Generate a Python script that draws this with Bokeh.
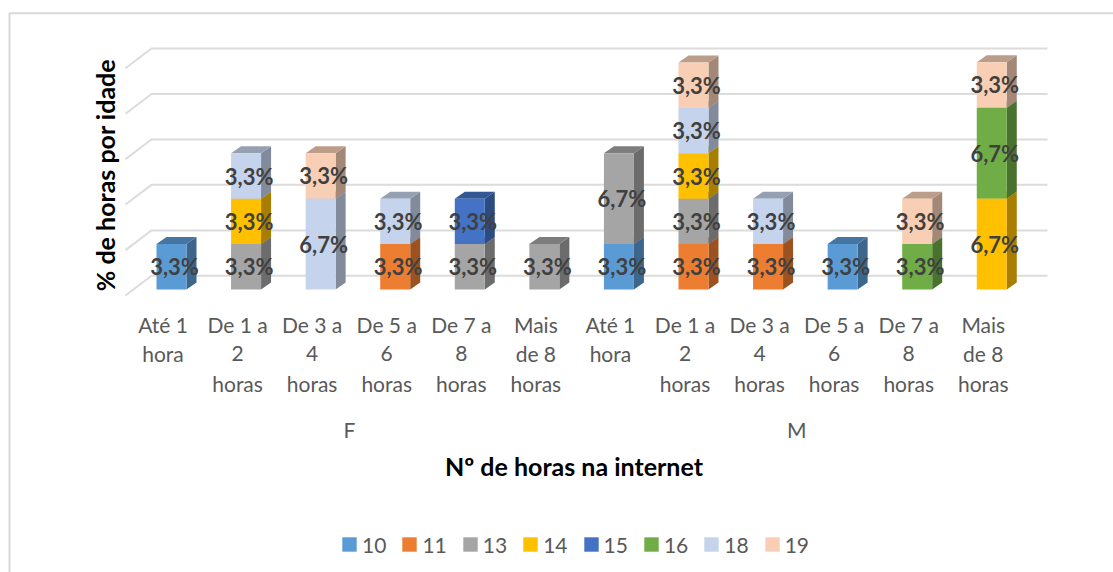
from bokeh.plotting import figure
from bokeh.models import ColumnDataSource, Legend, LegendItem
from bokeh.core.properties import value
from bokeh.embed import file_html
from bokeh.resources import INLINE
import math

# ---- data ----
categories = [["Até 1", "hora"], ["De 1 a", "2", "horas"], ["De 3 a", "4", "horas"], ["De 5 a", "6", "horas"],
              ["De 7 a", "8", "horas"], ["Mais", "de 8", "horas"],
              ["Até 1", "hora"], ["De 1 a", "2", "horas"], ["De 3 a", "4", "horas"], ["De 5 a", "6", "horas"],
              ["De 7 a", "8", "horas"], ["Mais", "de 8", "horas"]]
groups = ["F", "M"]
series_names = ["10", "11", "13", "14", "15", "16", "18", "19"]
colors = ["#5B9BD5", "#ED7D31", "#A5A5A5", "#FFC000", "#4472C4", "#70AD47", "#C5D3EC", "#F8CFB5"]
s10 = [3.33, 0, 0, 0, 0, 0, 3.33, 0, 0, 3.33, 0, 0]
s11 = [0, 0, 0, 3.33, 0, 0, 0, 3.33, 3.33, 0, 0, 0]
s13 = [0, 3.33, 0, 0, 3.33, 3.33, 6.67, 3.33, 0, 0, 0, 0]
s14 = [0, 3.33, 0, 0, 0, 0, 0, 3.33, 0, 0, 0, 6.67]
s15 = [0, 0, 0, 0, 3.33, 0, 0, 0, 0, 0, 0, 0]
s16 = [0, 0, 0, 0, 0, 0, 0, 0, 0, 0, 3.33, 6.67]
s18 = [0, 3.33, 6.67, 3.33, 0, 0, 0, 3.33, 3.33, 0, 0, 0]
s19 = [0, 0, 3.33, 0, 0, 0, 0, 3.33, 0, 0, 3.33, 3.33]
all_series = [s10, s11, s13, s14, s15, s16, s18, s19]
grid_values = [0, 3.33, 6.67, 10, 13.33, 16.67]

W, H = 1113, 572
PX_X = 74.57          # pixels per category
PX_Y = 45.4 / 3.33    # pixels per percent
X0, Y0 = 171.0, 289.0 # figure pixel of category 0 centre / value 0

def dx(px): return px / PX_X
def dy(px): return px / PX_Y
def fx(px): return (px - X0) / PX_X
def fy(px): return (Y0 - px) / PX_Y

p = figure(width=W, height=H, x_range=(fx(0), fx(W)), y_range=(fy(H), fy(0)),
           output_backend="svg", toolbar_location=None, min_border=0,
           x_axis_type=None, y_axis_type=None, outline_line_color=None,
           background_fill_color="white", border_fill_color="white")
p.grid.visible = False

GRID = "#DCDCDC"
# chart border (top and left only are within the picture)
p.line([fx(9), fx(9), fx(W)], [fy(H), fy(12.7), fy(12.7)], line_color="#D9D9D9", line_width=2)

# back wall grid + floor/side diagonals
gx_back, gx_right, gx_front = fx(151), fx(1047), fx(125)
back_off, front_off = dy(13.7), dy(-6)
p.multi_line([[gx_front, gx_back, gx_right] for _ in grid_values],
             [[g + front_off, g + back_off, g + back_off] for g in grid_values],
             line_color=GRID, line_width=2)

def shade(c, k):
    r, g, b = int(c[1:3], 16), int(c[3:5], 16), int(c[5:7], 16)
    return "#%02x%02x%02x" % (int(r * k), int(g * k), int(b * k))

bw = dx(30)
ddx, ddy = dx(10), dy(7)
bottoms = [0.0] * len(categories)
label_x, label_y, label_t = [], [], []
legend_items = []
for name, col, vals in zip(series_names, colors, all_series):
    idx = [i for i, v in enumerate(vals) if v > 0]
    lefts = [i - bw / 2 for i in idx]
    rights = [i + bw / 2 for i in idx]
    bots = [bottoms[i] for i in idx]
    tops = [bottoms[i] + vals[i] for i in idx]
    p.patches([[r, r + ddx, r + ddx, r] for r in rights],
              [[b, b + ddy, t + ddy, t] for b, t in zip(bots, tops)],
              fill_color=shade(col, 0.66), line_color=None)
    p.patches([[l, l + ddx, r + ddx, r] for l, r in zip(lefts, rights)],
              [[t, t + ddy, t + ddy, t] for t in tops],
              fill_color=shade(col, 0.76), line_color=None)
    src = ColumnDataSource(dict(left=lefts, right=rights, bottom=bots, top=tops))
    r = p.quad(left="left", right="right", bottom="bottom", top="top", source=src,
               fill_color=col, line_color=None)
    legend_items.append(LegendItem(label=name, renderers=[r]))
    for i in idx:
        label_x.append(i + dx(3))
        label_y.append(bottoms[i] + vals[i] / 2)
        label_t.append(f"{vals[i]:.1f}".replace(".", ",") + "%")
        bottoms[i] += vals[i]

p.text(label_x, label_y, text=label_t, text_font=value("Lato"), text_font_style="bold",
       text_font_size="22px", text_color="#404040", text_align="center", text_baseline="middle")

# category labels
line_px = [324, 353, 383]
tx, ty, tt = [], [], []
for i, lines in enumerate(categories):
    for j, s in enumerate(lines):
        tx.append(i + dx(-8.5)); ty.append(fy(line_px[j])); tt.append(s)
p.text(tx, ty, text=tt, text_font=value("Lato"), text_font_size="21px", text_color="#595959",
       text_align="center", text_baseline="middle")
# group labels
p.text([2.5 + dx(-8.5), 8.5 + dx(-8.5)], [fy(429), fy(429)], text=groups, text_font=value("Lato"),
       text_font_size="21px", text_color="#595959", text_align="center", text_baseline="middle")
# axis titles
p.text([fx(573.5)], [fy(465.5)], text=["Nº de horas na internet"], text_font=value("Lato"), text_font_style="bold",
       text_font_size="25px", text_color="#000000", text_align="center", text_baseline="middle")
p.text([fx(104.5)], [fy(174.5)], text=["% de horas por idade"], angle=math.pi / 2, text_font=value("Lato"),
       text_font_style="bold", text_font_size="25px", text_color="#000000", text_align="center",
       text_baseline="middle")

legend = Legend(items=legend_items, orientation="horizontal", location=(340, H - 537 - 14 - 5.5),
                glyph_width=18, glyph_height=18, label_standoff=4, spacing=14, padding=0, margin=0,
                border_line_color=None, background_fill_alpha=0,
                label_text_font="Lato", label_text_font_size="21px", label_text_color="#595959",
                label_height=14, label_width=24)
p.add_layout(legend, "center")

open("out.html", "w").write(file_html(p, INLINE))
